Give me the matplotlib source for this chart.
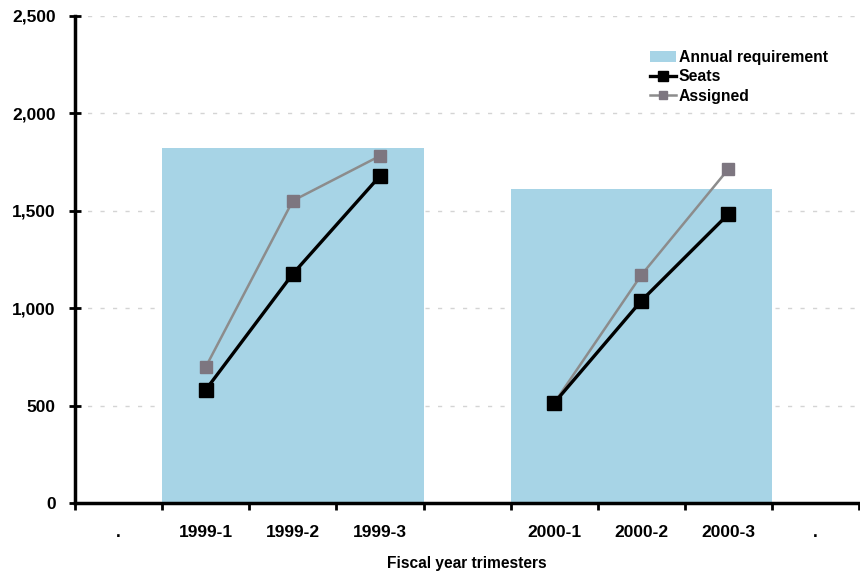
import matplotlib
matplotlib.use("Agg")
import matplotlib.pyplot as plt
from matplotlib.ticker import FuncFormatter, MultipleLocator
import numpy as np

plt.rcParams['font.family'] = ['Liberation Sans', 'DejaVu Sans']
plt.rcParams['font.weight'] = 'bold'

categories = [".", "1999-1", "1999-2", "1999-3", "", "2000-1", "2000-2", "2000-3", "."]
annual_requirement = [0, 1820, 1820, 1820, 0, 1610, 1610, 1610, 0]
seats = [np.nan, 580, 1175, 1677, np.nan, 513, 1037, 1482, np.nan]
assigned = [np.nan, 697, 1550, 1780, np.nan, 513, 1169, 1713, np.nan]

x = np.arange(len(categories))

fig = plt.figure(figsize=(8.6, 5.72), dpi=100)
ax = fig.add_axes([0.0872, 0.1206, 0.9118, 0.8523])

# dashed horizontal reference lines
for v in [500, 1000, 1500, 2000, 2500]:
    ax.axhline(v, color='#d4d4d4', lw=1.0, ls=(0, (3, 6)), zorder=0)

ax.bar(x, annual_requirement, width=1.0, color='#a7d4e6', edgecolor='none',
       label='Annual requirement', zorder=1)

# line breaks between fiscal years come from the NaN gaps
ax.plot(x[1:4], assigned[1:4], color='#8c8c8c', lw=1.8, marker='s', ms=8,
        mfc='#7d7680', mec='#7d7680', zorder=3)
ax.plot(x[5:8], assigned[5:8], color='#8c8c8c', lw=1.8, marker='s', ms=8,
        mfc='#7d7680', mec='#7d7680', zorder=3, label='Assigned')
ax.plot(x[1:4], seats[1:4], color='black', lw=2.4, marker='s', ms=9.5, zorder=4)
ax.plot(x[5:8], seats[5:8], color='black', lw=2.4, marker='s', ms=9.5, zorder=4,
        label='Seats')

ax.set_xlim(-0.5, len(categories) - 0.5)
ax.set_ylim(0, 2500)

ax.set_xticks(x)
ax.set_xticklabels(categories, fontsize=12.5, fontweight='bold')
ax.set_xticks(np.arange(-0.5, len(categories)), minor=True)
ax.tick_params(axis='x', which='major', length=0, pad=16)
ax.tick_params(axis='x', which='minor', length=5, width=2, direction='out')

ax.yaxis.set_major_locator(MultipleLocator(500))
ax.yaxis.set_major_formatter(FuncFormatter(lambda v, p: f"{int(v):,}"))
ax.tick_params(axis='y', which='major', length=8, width=2, direction='inout',
               labelsize=12.5, pad=10)
for lab in ax.get_yticklabels():
    lab.set_fontweight('bold')

for side in ['top', 'right']:
    ax.spines[side].set_visible(False)
ax.spines['left'].set_linewidth(2.5)
ax.spines['bottom'].set_linewidth(2.5)

ax.set_xlabel('Fiscal year trimesters', fontsize=11.2, fontweight='bold', labelpad=11)

handles, labels = ax.get_legend_handles_labels()
order = [labels.index(n) for n in ['Annual requirement', 'Seats', 'Assigned']]
leg = ax.legend([handles[i] for i in order], [labels[i] for i in order],
                loc='upper right', bbox_to_anchor=(0.968, 0.943), frameon=False,
                prop={'weight': 'bold', 'size': 11.3}, handlelength=1.7,
                handletextpad=0.15, labelspacing=0.3, borderaxespad=0,
                markerscale=0.8)

fig.savefig('out.png', dpi=100, facecolor='white')
